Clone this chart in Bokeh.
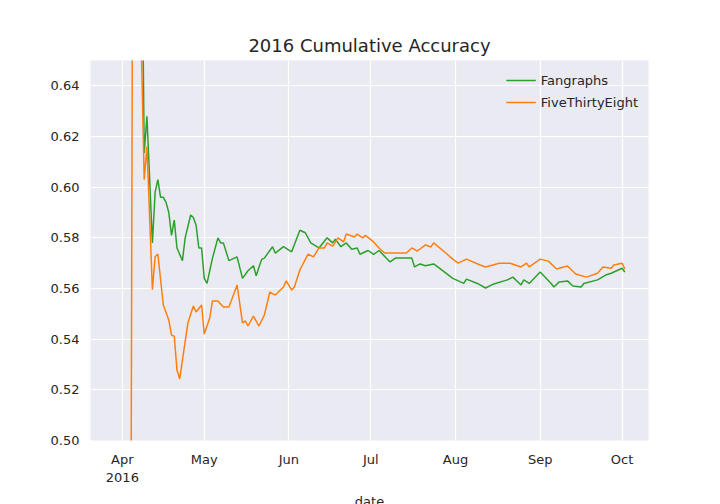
import datetime as dt
from bokeh.plotting import figure
from bokeh.models import Range1d, FixedTicker, Legend, LegendItem, NumeralTickFormatter
from bokeh.embed import file_html
from bokeh.resources import INLINE

start = dt.datetime(2016, 4, 1)

fg_day = [7, 8, 9, 11, 12, 13, 14, 15, 16, 17, 18, 19, 20, 22, 23, 25, 26, 27, 28, 29, 30, 31, 33, 35, 36, 37,
          39, 40, 42, 44, 46, 48, 49, 51, 52, 55, 56, 59, 62, 65, 67, 69, 72, 75, 77, 78, 80, 82, 84, 86, 87,
          90, 92, 94, 98, 100, 106, 107, 109, 111, 114, 118, 121, 125, 126, 130, 133, 136, 141, 143, 146, 147,
          149, 153, 157, 158, 160, 163, 165, 168, 169, 174, 177, 179, 180, 183, 184]
fg_val = [0.72, 0.6135, 0.628, 0.578, 0.598, 0.603, 0.596, 0.596, 0.594, 0.590, 0.581, 0.587, 0.576, 0.571,
          0.580, 0.589, 0.588, 0.585, 0.576, 0.576, 0.564, 0.562, 0.572, 0.580, 0.578, 0.578, 0.571, 0.5715,
          0.5725, 0.564, 0.567, 0.569, 0.565, 0.5715, 0.572, 0.5765, 0.574, 0.5765, 0.5745, 0.583, 0.582, 0.578,
          0.576, 0.580, 0.578, 0.5795, 0.5765, 0.578, 0.5755, 0.576, 0.5735, 0.575, 0.5735, 0.575, 0.5705, 0.572,
          0.572, 0.5685, 0.5697, 0.569, 0.5697, 0.5665, 0.564, 0.562, 0.5637, 0.562, 0.5602, 0.5618, 0.5634,
          0.5645, 0.5614, 0.5634, 0.562, 0.5665, 0.562, 0.5606, 0.5626, 0.563, 0.561, 0.5606, 0.562, 0.5634,
          0.5653, 0.566, 0.5665, 0.568, 0.5665]

fte_day = [3, 4, 8, 9, 11, 12, 13, 15, 17, 18, 19, 20, 21, 24, 26, 27, 29, 30, 32, 33, 35, 37, 39, 40, 42, 44,
           45, 46, 48, 50, 52, 54, 56, 59, 60, 62, 63, 65, 68, 70, 72, 74, 75, 77, 79, 81, 82, 85, 86, 88, 89,
           92, 94, 96, 99, 104, 106, 108, 111, 113, 114, 118, 121, 123, 126, 131, 133, 138, 142, 146, 148, 149,
           153, 156, 159, 163, 166, 170, 174, 176, 179, 180, 183, 184]
fte_val = [0.40, 0.80, 0.603, 0.616, 0.5595, 0.5725, 0.5736, 0.5535, 0.5476, 0.5416, 0.5412, 0.5278, 0.5243,
           0.5464, 0.5531, 0.5507, 0.5535, 0.542, 0.5484, 0.5551, 0.5551, 0.5527, 0.5527, 0.5555, 0.5614, 0.5464,
           0.5472, 0.5452, 0.5491, 0.5452, 0.5495, 0.5586, 0.5574, 0.5606, 0.563, 0.5594, 0.5606, 0.5673, 0.5736,
           0.5725, 0.576, 0.576, 0.578, 0.5767, 0.58, 0.5784, 0.5815, 0.5803, 0.5815, 0.58, 0.581, 0.5784, 0.576,
           0.574, 0.574, 0.574, 0.576, 0.5748, 0.5772, 0.5764, 0.578, 0.5744, 0.5716, 0.57, 0.5716, 0.5693,
           0.5685, 0.57, 0.57, 0.5685, 0.57, 0.5685, 0.5716, 0.5708, 0.5677, 0.5689, 0.5657, 0.5645, 0.566,
           0.5685, 0.568, 0.5693, 0.57, 0.5677]

tick_dates = ["2016-04-01", "2016-05-01", "2016-06-01", "2016-07-01", "2016-08-01", "2016-09-01", "2016-10-01"]
tick_labels = ["Apr\n2016", "May", "Jun", "Jul", "Aug", "Sep", "Oct"]
y_ticks = [0.50, 0.52, 0.54, 0.56, 0.58, 0.60, 0.62, 0.64]

def ms(d):
    return (d - dt.datetime(1970, 1, 1)).total_seconds() * 1000

fg_x = [start + dt.timedelta(days=d) for d in fg_day]
fte_x = [start + dt.timedelta(days=d) for d in fte_day]

p = figure(output_backend="svg", toolbar_location=None, x_axis_type="datetime",
           frame_width=558, frame_height=380, min_border_left=90, min_border_right=50,
           min_border_top=60, min_border_bottom=46,
           x_range=Range1d(dt.datetime(2016, 3, 20, 8), dt.datetime(2016, 10, 10, 16)),
           y_range=Range1d(0.50, 0.65), title="2016 Cumulative Accuracy")

p.background_fill_color = "#EAEAF2"
p.border_fill_color = "white"
p.outline_line_color = None
p.title.align = "center"
p.title.text_font = "DejaVu Sans"
p.title.text_font_size = "18px"
p.title.text_font_style = "normal"
p.title.text_color = "#262626"

for ax in (p.xaxis[0], p.yaxis[0]):
    ax.axis_line_color = None
    ax.major_tick_line_color = None
    ax.minor_tick_line_color = None
    ax.major_label_text_font = "DejaVu Sans"
    ax.major_label_text_font_size = "13px"
    ax.major_label_text_color = "#262626"
    ax.axis_label_text_font = "DejaVu Sans"
    ax.axis_label_text_font_size = "13px"
    ax.axis_label_text_font_style = "normal"
    ax.axis_label_text_color = "#262626"
p.xaxis.axis_label_standoff = 6

tick_ms = [ms(dt.datetime.strptime(t, "%Y-%m-%d")) for t in tick_dates]
p.xaxis.ticker = FixedTicker(ticks=tick_ms)
p.xaxis.major_label_overrides = {t: l for t, l in zip(tick_ms, tick_labels)}
p.xaxis.axis_label = "date"
p.yaxis.ticker = FixedTicker(ticks=y_ticks)
p.yaxis.formatter = NumeralTickFormatter(format="0.00")

p.grid.grid_line_color = "white"
p.grid.grid_line_width = 1.2

r1 = p.line(fg_x, fg_val, line_color="#2ca02c", line_width=1.5)
r2 = p.line(fte_x, fte_val, line_color="#ff7f0e", line_width=1.5)

legend = Legend(items=[LegendItem(label="Fangraphs", renderers=[r1]),
                       LegendItem(label="FiveThirtyEight", renderers=[r2])],
                location="top_right", background_fill_alpha=0, border_line_color=None,
                label_text_font="DejaVu Sans", label_text_font_size="13px",
                label_text_color="#262626", glyph_width=30, spacing=2, margin=10)
p.add_layout(legend)

open("out.html", "w").write(file_html(p, INLINE))
